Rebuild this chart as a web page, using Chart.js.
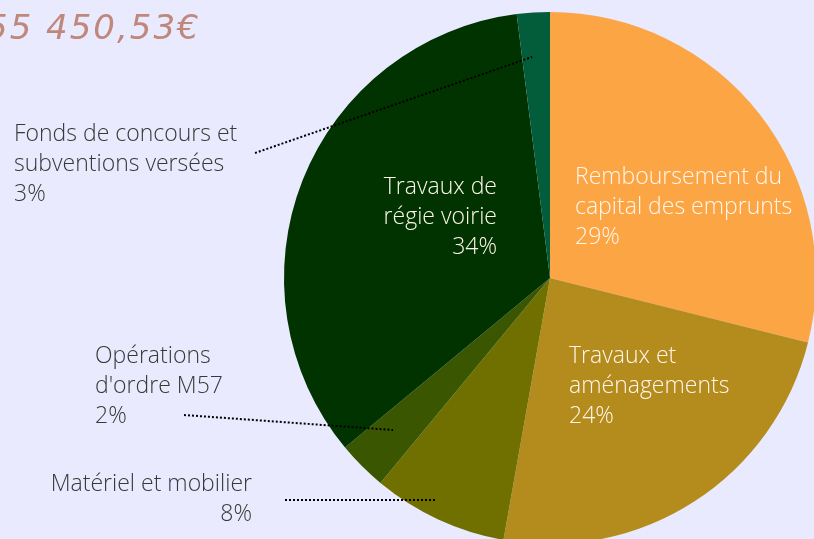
<!DOCTYPE html>
<html lang="fr">
<head>
  <meta charset="UTF-8" />
  <title>Dépenses d'investissement</title>
  <script src="https://cdn.jsdelivr.net/npm/chart.js"></script>
  <style>
    html, body {
      margin: 0;
      padding: 0;
      width: 814px;
      height: 539px;
      overflow: hidden;
      background: #e9eafd;
      font-family: "Open Sans", sans-serif;
    }

    .wrap {
      position: absolute;
      left: 0;
      top: 0;
      width: 816px;
      height: 544px;
    }

    .title {
      position: absolute;
      left: -14px;
      top: 7px;
      font-family: "DejaVu Sans", sans-serif;
      font-style: italic;
      font-size: 34px;
      letter-spacing: 2px;
      color: #c0877c;
      white-space: nowrap;
    }

    .lbl {
      position: absolute;
      font-size: 23px;
      font-weight: 300;
      line-height: 30px;
      white-space: nowrap;
      color: #383838;
    }

    .lbl.in {
      color: #fff6ea;
    }
  </style>
</head>
<body>
  <div class="wrap">
    <canvas id="pieChart" width="816" height="544"></canvas>
  </div>
  <div class="title">55 450,53€</div>
  <div id="labels"></div>

  <script>
    // catégories et parts
    const categories = [
      ['Remboursement du', 'capital des emprunts'],
      ['Travaux et', 'aménagements'],
      ['Matériel et mobilier'],
      ['Opérations', "d'ordre M57"],
      ['Travaux de', 'régie voirie'],
      ['Fonds de concours et', 'subventions versées']
    ];
    const shares = [28.9, 23.9, 8.2, 3.0, 34.0, 2.0];
    const shareLabels = ['29%', '24%', '8%', '2%', '34%', '3%'];
    const colors = ['#fca545', '#b48c1e', '#6f7000', '#3a5600', '#003300', '#035c3a'];

    // placement des étiquettes
    const labelPos = [
      { left: 575, top: 160, inside: true },
      { left: 569, top: 339, inside: true },
      { right: 562, top: 467, inside: false, align: 'right' },
      { left: 95, top: 339, inside: false },
      { right: 317, top: 170, inside: true, align: 'right' },
      { left: 14, top: 117, inside: false }
    ];

    // traits pointillés
    const leaders = [
      [255, 153, 532, 57],
      [184, 415, 393, 430],
      [285, 500, 437, 500]
    ];

    const box = document.getElementById('labels');
    categories.forEach((lines, i) => {
      const p = labelPos[i];
      const d = document.createElement('div');
      d.className = 'lbl' + (p.inside ? ' in' : '');
      d.style.top = p.top + 'px';
      if (p.left !== undefined) d.style.left = p.left + 'px';
      if (p.right !== undefined) d.style.right = p.right + 'px';
      d.style.textAlign = p.align || 'left';
      d.innerHTML = lines.concat([shareLabels[i]]).join('<br>');
      box.appendChild(d);
    });

    const leaderPlugin = {
      id: 'leaders',
      afterDraw(chart) {
        const ctx = chart.ctx;
        ctx.save();
        ctx.strokeStyle = '#000';
        ctx.lineWidth = 2;
        ctx.setLineDash([2, 2]);
        leaders.forEach(l => {
          ctx.beginPath();
          ctx.moveTo(l[0], l[1]);
          ctx.lineTo(l[2], l[3]);
          ctx.stroke();
        });
        ctx.restore();
      }
    };

    new Chart(document.getElementById('pieChart').getContext('2d'), {
      type: 'pie',
      data: {
        labels: categories.map(c => c.join(' ')),
        datasets: [{
          data: shares,
          backgroundColor: colors,
          borderWidth: 0,
          hoverOffset: 0
        }]
      },
      options: {
        responsive: false,
        animation: false,
        layout: { padding: { left: 284, top: 12, right: 0, bottom: 0 } },
        plugins: {
          legend: { display: false },
          tooltip: { enabled: false }
        }
      },
      plugins: [leaderPlugin]
    });
  </script>
</body>
</html>
